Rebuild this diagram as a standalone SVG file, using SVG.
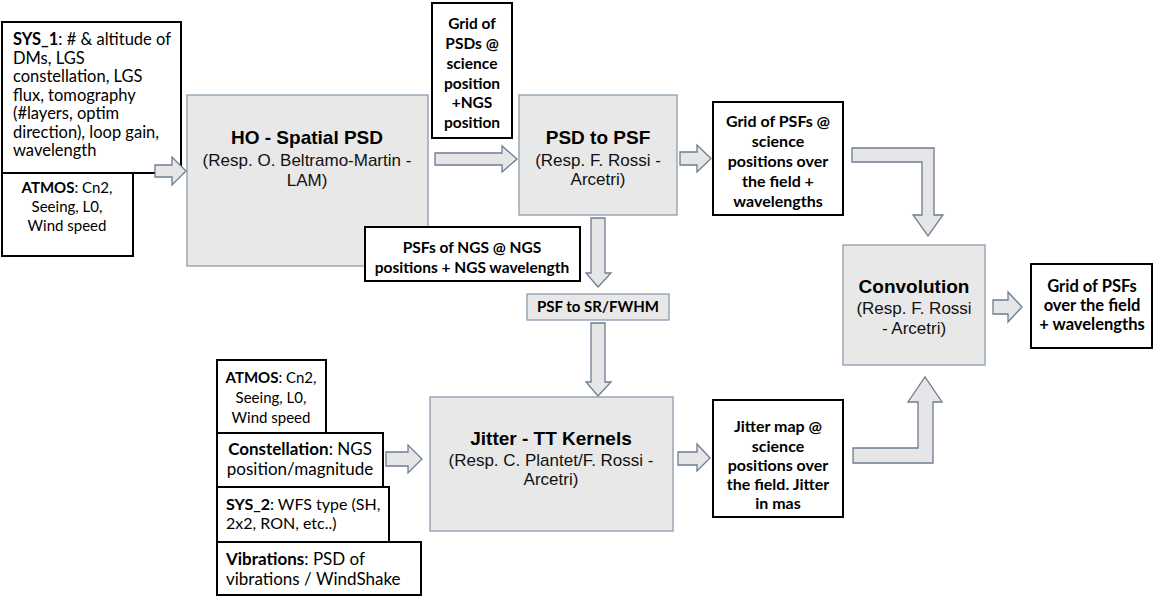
<svg xmlns="http://www.w3.org/2000/svg" width="1154" height="596" viewBox="0 0 1154 596">
<style>
.bg{fill:#ffffff}
.proc{fill:#e8e8e8;stroke:#8c9cb0;stroke-width:1.3}
.note{fill:#ffffff;stroke:#000000;stroke-width:2}
.arr{fill:#e6e6e6;stroke:#6d7c93;stroke-width:1.3;stroke-linejoin:miter}
.t{font-family:Lato,"Liberation Sans",sans-serif;font-size:15px;fill:#000}
.tb{font-family:Lato,"Liberation Sans",sans-serif;font-size:15.5px;font-weight:bold;fill:#000}
.c{text-anchor:middle}
.f15{font-size:15px}
.f16{font-size:16px}
.f165{font-size:16.5px}
.f17{font-size:17px}
.b{font-weight:bold}
.h{font-family:"Liberation Sans",Arial,sans-serif;font-size:19px;font-weight:bold;fill:#000;text-anchor:middle}
.s{font-family:"Liberation Sans",Arial,sans-serif;font-size:17px;fill:#111;text-anchor:middle}
</style>
<rect class="bg" x="0" y="0" width="1154" height="596"/>

<g id="sys1">
<rect class="note" x="2" y="22" width="179" height="151"/>
<text class="t f165" x="13" y="45"><tspan class="b">SYS_1</tspan>: # &amp; altitude of</text>
<text class="t f165" x="13" y="64">DMs, LGS</text>
<text class="t f165" x="13" y="82">constellation, LGS</text>
<text class="t f165" x="13" y="101">flux, tomography</text>
<text class="t f165" x="13" y="119">(#layers, optim</text>
<text class="t f165" x="13" y="138">direction), loop gain,</text>
<text class="t f165" x="13" y="156">wavelength</text>
</g>

<g id="atmos1">
<rect class="note" x="2" y="173" width="131" height="83"/>
<text class="t c" x="67" y="193"><tspan class="b">ATMOS</tspan>: Cn2,</text>
<text class="t c" x="67" y="212">Seeing, L0,</text>
<text class="t c" x="67" y="231">Wind speed</text>
</g>

<g id="ho">
<rect class="proc" x="187" y="95" width="241" height="171"/>
<text class="h" x="307" y="144">HO - Spatial PSD</text>
<text class="s" x="307" y="166">(Resp. O. Beltramo-Martin -</text>
<text class="s" x="307" y="186">LAM)</text>
</g>

<g id="gridpsd">
<rect class="note" x="432" y="3" width="80" height="135"/>
<text class="tb c" x="472" y="29">Grid of</text>
<text class="tb c" x="472" y="49">PSDs @</text>
<text class="tb c" x="472" y="69">science</text>
<text class="tb c" x="472" y="89">position</text>
<text class="tb c" x="472" y="108">+NGS</text>
<text class="tb c" x="472" y="128">position</text>
</g>

<g id="psd2psf">
<rect class="proc" x="519" y="95" width="158" height="120"/>
<text class="h" x="598" y="144">PSD to PSF</text>
<text class="s" x="598" y="166">(Resp. F. Rossi -</text>
<text class="s" x="598" y="185">Arcetri)</text>
</g>

<g id="gridpsf">
<rect class="note" x="713" y="102" width="130" height="113"/>
<text class="tb c f16" x="778" y="127">Grid of PSFs @</text>
<text class="tb c f16" x="778" y="147">science</text>
<text class="tb c f16" x="778" y="167">positions over</text>
<text class="tb c f16" x="778" y="187">the field +</text>
<text class="tb c f16" x="778" y="207">wavelengths</text>
</g>

<g id="psfngs">
<rect class="note" x="365" y="227" width="215" height="54"/>
<text class="tb c" x="472" y="253">PSFs of NGS @ NGS</text>
<text class="tb c" x="472" y="273">positions + NGS wavelength</text>
</g>

<g id="psf2sr">
<rect class="proc" x="527" y="294" width="142" height="26"/>
<text class="tb c f15" x="598" y="312">PSF to SR/FWHM</text>
</g>

<g id="conv">
<rect class="proc" x="843" y="245" width="142" height="120"/>
<text class="h" x="914" y="293">Convolution</text>
<text class="s" x="914" y="314">(Resp. F. Rossi</text>
<text class="s" x="914" y="334">- Arcetri)</text>
</g>

<g id="final">
<rect class="note" x="1031" y="264" width="121" height="84"/>
<text class="tb c f165" x="1092" y="292">Grid of PSFs</text>
<text class="tb c f165" x="1092" y="311">over the field</text>
<text class="tb c f165" x="1092" y="330">+ wavelengths</text>
</g>

<g id="atmos2">
<rect class="note" x="217" y="360" width="109" height="73"/>
<text class="t c" x="271" y="383"><tspan class="b">ATMOS</tspan>: Cn2,</text>
<text class="t c" x="271" y="403">Seeing, L0,</text>
<text class="t c" x="271" y="423">Wind speed</text>
</g>

<g id="constellation">
<rect class="note" x="217" y="433" width="166" height="54"/>
<text class="t c f17" x="300" y="455"><tspan class="b">Constellation</tspan>: NGS</text>
<text class="t c f17" x="300" y="475">position/magnitude</text>
</g>

<g id="sys2">
<rect class="note" x="217" y="487" width="172" height="55"/>
<text class="t f16" x="226" y="510"><tspan class="b">SYS_2</tspan>: WFS type (SH,</text>
<text class="t f16" x="226" y="529">2x2, RON, etc..)</text>
</g>

<g id="vibrations">
<rect class="note" x="217" y="542" width="204" height="53"/>
<text class="t f17" x="226" y="565"><tspan class="b">Vibrations</tspan>: PSD of</text>
<text class="t f17" x="226" y="585">vibrations / WindShake</text>
</g>

<g id="jitter">
<rect class="proc" x="430" y="397" width="243" height="134"/>
<text class="h" x="551" y="445">Jitter - TT Kernels</text>
<text class="s" x="551" y="466">(Resp. C. Plantet/F. Rossi -</text>
<text class="s" x="551" y="485">Arcetri)</text>
</g>

<g id="jittermap">
<rect class="note" x="713" y="400" width="130" height="117"/>
<text class="tb c f16" x="778" y="432">Jitter map @</text>
<text class="tb c f16" x="778" y="452">science</text>
<text class="tb c f16" x="778" y="471">positions over</text>
<text class="tb c f16" x="778" y="490">the field. Jitter</text>
<text class="tb c f16" x="778" y="509">in mas</text>
</g>

<g id="connectors">
<path class="arr" d="M155,165 H172 V157 L186,171 L172,185 V177 H155 Z"/>
<path class="arr" d="M435,153 H502 V146 L517,159 L502,172 V165 H435 Z"/>
<path class="arr" d="M680,152 H697 V145 L711,158.5 L697,172 V165 H680 Z"/>
<path class="arr" d="M852,148 H934 V215 H943 L928,236 L913,215 H922 V162 H852 Z"/>
<path class="arr" d="M993,300 H1008 V292 L1022,307 L1008,322 V314 H993 Z"/>
<path class="arr" d="M591,218 H605 V273 H611 L598,287 L586,273 H591 Z"/>
<path class="arr" d="M591,323 H605 V382 H611 L598,396 L586,382 H591 Z"/>
<path class="arr" d="M386,452 H408 V445 L422,459 L408,473 V466 H386 Z"/>
<path class="arr" d="M678,452 H697 V444 L710,458 L697,471 V465 H678 Z"/>
<path class="arr" d="M853,463 H933 V402 H942 L925,377 L908,402 H918 V448 H853 Z"/>
</g>
</svg>
